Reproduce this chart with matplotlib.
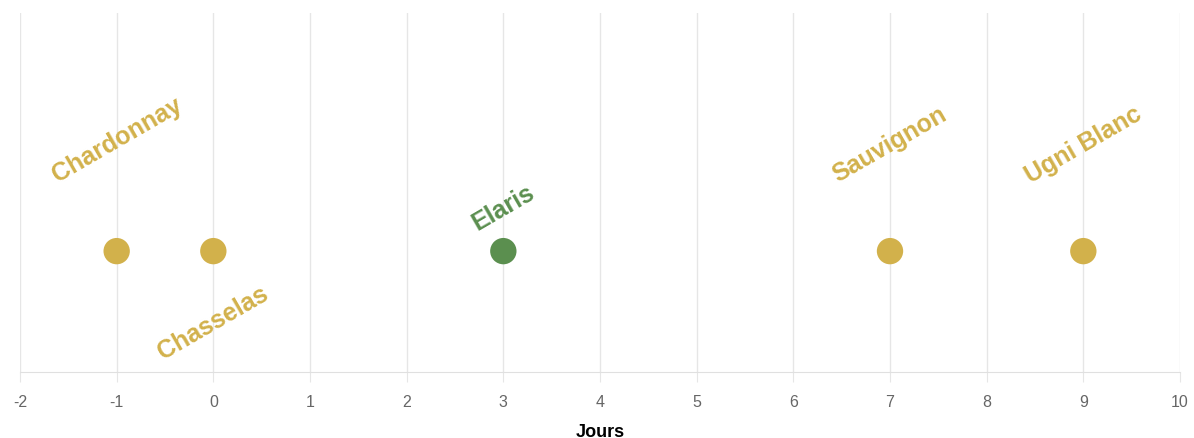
import matplotlib
matplotlib.use("Agg")
import matplotlib.pyplot as plt

# data
cepages = ["Chardonnay", "Chasselas", "Elaris", "Sauvignon", "Ugni Blanc"]
jours = [-1, 0, 3, 7, 9]
highlight = [False, False, True, False, False]
label_dy = [112, -71, 44, 107, 107]  # label offset in px above/below the dot
xticks = list(range(-2, 11))

GOLD = "#D2B14B"
GREEN = "#5B8F4F"

plt.rcParams["font.family"] = ["Liberation Sans", "DejaVu Sans"]
plt.rcParams["axes.unicode_minus"] = False
fig = plt.figure(figsize=(11.94, 4.39), dpi=100)
ax = fig.add_axes([20/1194, 66/439, 1160/1194, 359/439])

cols = [GREEN if h else GOLD for h in highlight]
ax.scatter(jours, [0]*len(jours), s=360, c=cols, zorder=3, linewidths=0)
for name, x, dy, c in zip(cepages, jours, label_dy, cols):
    ax.annotate(name, (x, 0), xytext=(0, dy*0.72), textcoords="offset points",
                ha="center", va="center", rotation=30, rotation_mode="anchor",
                color=c, fontsize=18, fontweight="bold")

ax.set_xlim(-2, 10)
ax.set_ylim(-1, 1.97)
ax.set_xticks(xticks)
ax.set_yticks([])
ax.grid(axis="x", color="#e6e6e6", lw=1)
ax.set_axisbelow(True)
for s in ["top", "left", "right"]:
    ax.spines[s].set_visible(False)
ax.spines["bottom"].set_color("#e0e0e0")
ax.tick_params(axis="x", length=7, color="#e6e6e6", labelcolor="#666666", labelsize=11.5, pad=9)
ax.set_xlabel("Jours", fontsize=13, fontweight="bold", labelpad=10)

fig.savefig("out.png", dpi=100)
